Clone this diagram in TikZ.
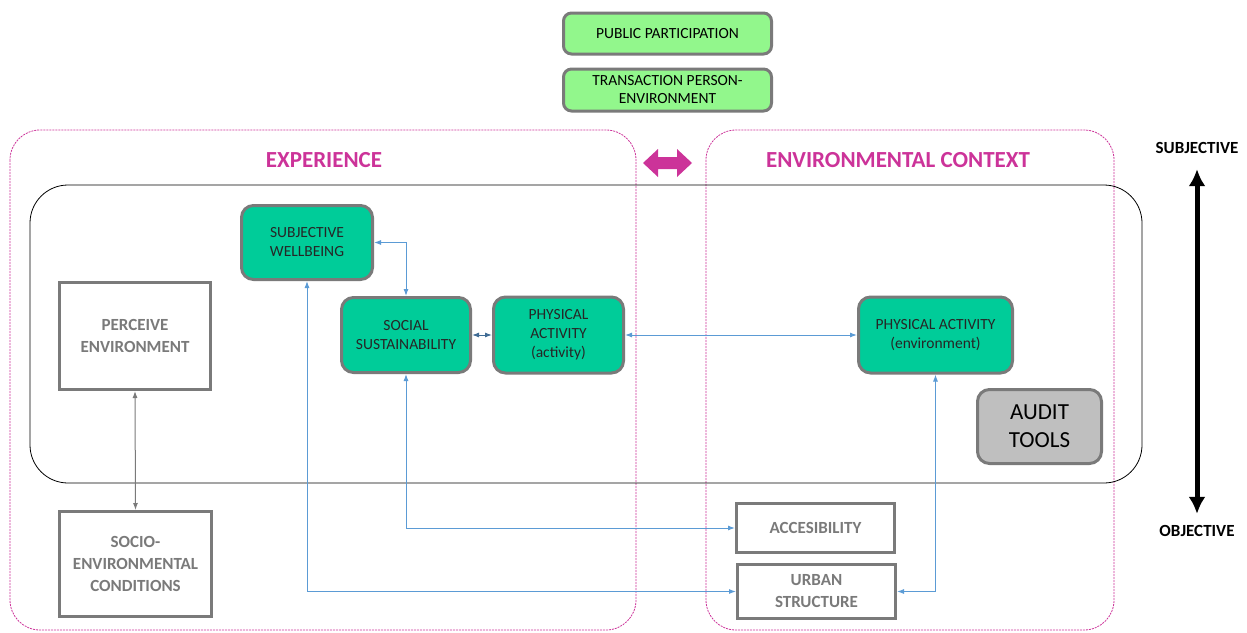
\documentclass[tikz,border=0pt]{standalone}
\usepackage{fontspec}
\setmainfont{Carlito}
\usetikzlibrary{positioning, arrows.meta}

\definecolor{litegreen}{RGB}{146,247,140}
\definecolor{tealfill}{RGB}{0,204,153}
\definecolor{boxgray}{RGB}{122,122,122}
\definecolor{auditgray}{RGB}{191,191,191}
\definecolor{magen}{RGB}{204,51,153}
\definecolor{linkblue}{RGB}{91,155,213}

\tikzset{
  topbox/.style={draw=boxgray, line width=3pt, rounded corners=8pt, fill=litegreen,
    minimum width=208pt, minimum height=41pt, align=center,
    font=\fontsize{15.5}{18}\selectfont},
  tealbox/.style={draw=boxgray, line width=3pt, rounded corners=12pt, fill=tealfill,
    align=center, text=black!85, font=\fontsize{15.5}{19}\selectfont},
  plainbox/.style={draw=boxgray, line width=3pt, fill=white, align=center,
    text=boxgray, font=\fontsize{17}{22}\bfseries\selectfont},
  region/.style={draw=magen, line width=0.8pt, dash pattern=on 2pt off 1pt, rounded corners=30pt},
  heading/.style={text=magen, font=\fontsize{23}{26}\bfseries\selectfont},
  link/.style={draw=linkblue, line width=1pt, {Latex[length=7pt,width=5pt]}-{Latex[length=7pt,width=5pt]}},
}

\begin{document}
\begin{tikzpicture}[x=1pt,y=-1pt]
  \useasboundingbox (0,0) rectangle (1247,632);

  % regions
  \draw[region] (10,130) rectangle (636,630);
  \draw[region] (706,130) rectangle (1114,630);
  \draw[black, line width=0.8pt, rounded corners=38pt] (30,185) rectangle (1142,483);
  \node[heading] (exp) at (324,160) {EXPERIENCE};
  \node[heading] (ctx) at (898,160) {ENVIRONMENTAL CONTEXT};
  \fill[magen] (643,163) -- (658,149) -- (658,157) -- (677,157) -- (677,149) -- (692,163)
    -- (677,177) -- (677,169) -- (658,169) -- (658,177) -- cycle;

  % top boxes
  \node[topbox] (pub) at (667.5,33.5) {PUBLIC PARTICIPATION};
  \node[topbox, minimum height=42pt] (trans) at (667.5,90) {TRANSACTION PERSON-\\ENVIRONMENT};

  % experience side
  \node[tealbox, minimum width=131pt, minimum height=74pt] (sw) at (307,242.5) {SUBJECTIVE\\WELLBEING};
  \node[tealbox, minimum width=129pt, minimum height=75pt] (ss) at (406,335) {SOCIAL\\SUSTAINABILITY};
  \node[tealbox, minimum width=130pt, minimum height=76pt] (paa) at (558.5,335) {PHYSICAL\\ACTIVITY\\(activity)};
  \node[plainbox, minimum width=151pt, minimum height=107pt] (perc) at (135,336) {PERCEIVE\\ENVIRONMENT};
  \node[plainbox, minimum width=152pt, minimum height=105pt] (socio) at (135.5,564) {SOCIO-\\ENVIRONMENTAL\\CONDITIONS};

  % context side
  \node[tealbox, minimum width=154pt, minimum height=76pt] (pae) at (935.5,335) {PHYSICAL ACTIVITY\\(environment)};
  \node[draw=boxgray, line width=3pt, rounded corners=12pt, fill=auditgray, align=center,
        minimum width=124pt, minimum height=74pt, font=\fontsize{23}{28}\selectfont] (audit) at (1039.5,426.5) {AUDIT\\TOOLS};
  \node[plainbox, minimum width=158pt, minimum height=49pt] (acc) at (815.5,528) {ACCESIBILITY};
  \node[plainbox, minimum width=158pt, minimum height=54pt] (urban) at (816.5,591.5) {URBAN\\STRUCTURE};

  % links
  \draw[link] (sw.east) -| (ss.north);
  \draw[link] (sw.south) |- (urban.west);
  \draw[link] (ss.south) |- (acc.west);
  \draw[link, draw=linkblue!70!black] (ss.east) -- (paa.west);
  \draw[link] (paa.east) -- (pae.west);
  \draw[link] (pae.south) |- (urban.east);
  \draw[link, draw=boxgray] (perc.south) -- (socio.north);

  % scale
  \node[font=\fontsize{17}{20}\bfseries\selectfont] (subj) at (1197,148) {SUBJECTIVE};
  \node[font=\fontsize{17}{20}\bfseries\selectfont] (obj) at (1197,531) {OBJECTIVE};
  \draw[line width=5pt, {Latex[length=17pt,width=17pt]}-{Latex[length=17pt,width=17pt]},
        shorten <=12pt, shorten >=8pt] (subj) -- (obj);
\end{tikzpicture}
\end{document}
